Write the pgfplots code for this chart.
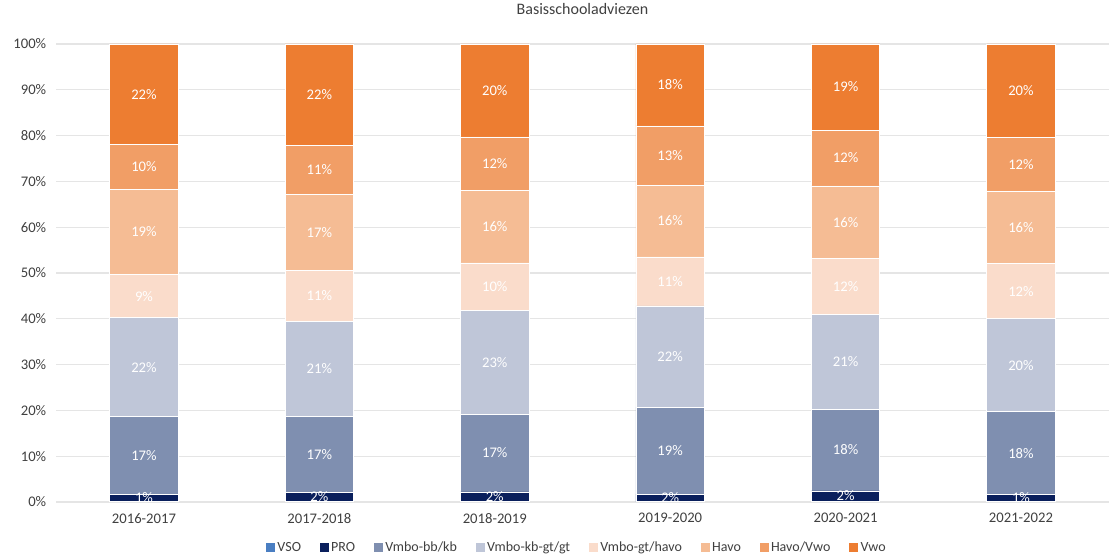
\documentclass[border=0pt]{standalone}
\usepackage{pgfplots}
\pgfplotsset{compat=1.18}
\usepackage{pgfplotstable}
\usepackage{fontspec}
\setmainfont{Carlito}
\definecolor{cVSO}{HTML}{4A7EC2}
\definecolor{cPRO}{HTML}{0A1F5C}
\definecolor{cBB}{HTML}{7F8FB0}
\definecolor{cKB}{HTML}{BFC6D8}
\definecolor{cGTH}{HTML}{FADCCB}
\definecolor{cHAVO}{HTML}{F5BC94}
\definecolor{cHV}{HTML}{F19E66}
\definecolor{cVWO}{HTML}{ED7D31}
\definecolor{txt}{HTML}{404040}
\pgfplotstableread{
x vso pro bb kb gth havo hv vwo
0 0.2 1.4 17.0 21.6 9.4 18.7 9.7 22.0
1 0.2 1.8 16.6 20.9 11.1 16.6 10.6 22.2
2 0.2 2.0 17.0 22.6 10.4 15.9 11.6 20.3
3 0.2 1.5 19.0 22.1 10.7 15.7 12.9 17.9
4 0.2 2.2 17.9 20.7 12.1 15.9 12.2 18.8
5 0.2 1.4 18.1 20.3 12.0 15.9 11.7 20.4
}\data
\begin{document}
\begin{tikzpicture}
\path[use as bounding box] (0,0) rectangle (833.25pt,416.25pt);
\begin{axis}[
  at={(42.2pt,39.75pt)}, anchor=south west,
  scale only axis, width=789.3pt, height=343.5pt,
  ybar stacked, bar width=0.39,
  xmin=-0.5, xmax=5.5, ymin=0, ymax=100,
  xtick=data,
  xticklabels={2016-2017,2017-2018,2018-2019,2019-2020,2020-2021,2021-2022},
  ytick={0,10,...,100},
  yticklabel={\pgfmathprintnumber{\tick}\%},
  /pgf/number format/assume math mode=true,
  axis line style={draw=none},
  major tick length=0pt,
  ymajorgrids, grid style={draw=black!10, line width=0.8pt},
  tick label style={font=\fontsize{11}{13}\selectfont, text=txt},
  xticklabel style={yshift=-5pt},
  yticklabel style={xshift=-4pt},
  title={Basisschooladviezen},
  title style={font=\fontsize{12}{14}\selectfont, text=txt, at={(0.5,1)}, anchor=center, yshift=20.5pt},
  legend columns=8,
  legend style={at={(0.495,-0.1)}, anchor=center, draw=none, font=\fontsize{10.5}{12}\selectfont, text=txt,
    /tikz/every even column/.append style={column sep=12pt}},
  mybar/.style={fill=#1, draw=white, line width=0.6pt,
    legend image code/.code={\fill[#1] (0pt,-3pt) rectangle (6pt,3pt);}},
  lbl/.style={visualization depends on=rawy\as\rawy,
    nodes near coords={\pgfmathprintnumber[fixed,precision=0]{\rawy}\%},
    every node near coord/.append style={font=\fontsize{11}{13}\selectfont, text=white, anchor=center}},
]
\addplot[mybar=cVSO] table[x=x,y=vso]{\data};
\addplot[mybar=cPRO, lbl] table[x=x,y=pro]{\data};
\addplot[mybar=cBB, lbl] table[x=x,y=bb]{\data};
\addplot[mybar=cKB, lbl] table[x=x,y=kb]{\data};
\addplot[mybar=cGTH, lbl] table[x=x,y=gth]{\data};
\addplot[mybar=cHAVO, lbl] table[x=x,y=havo]{\data};
\addplot[mybar=cHV, lbl] table[x=x,y=hv]{\data};
\addplot[mybar=cVWO, lbl] table[x=x,y=vwo]{\data};
\legend{VSO,PRO,Vmbo-bb/kb,Vmbo-kb-gt/gt,Vmbo-gt/havo,Havo,Havo/Vwo,Vwo}
\end{axis}
\end{tikzpicture}
\end{document}
